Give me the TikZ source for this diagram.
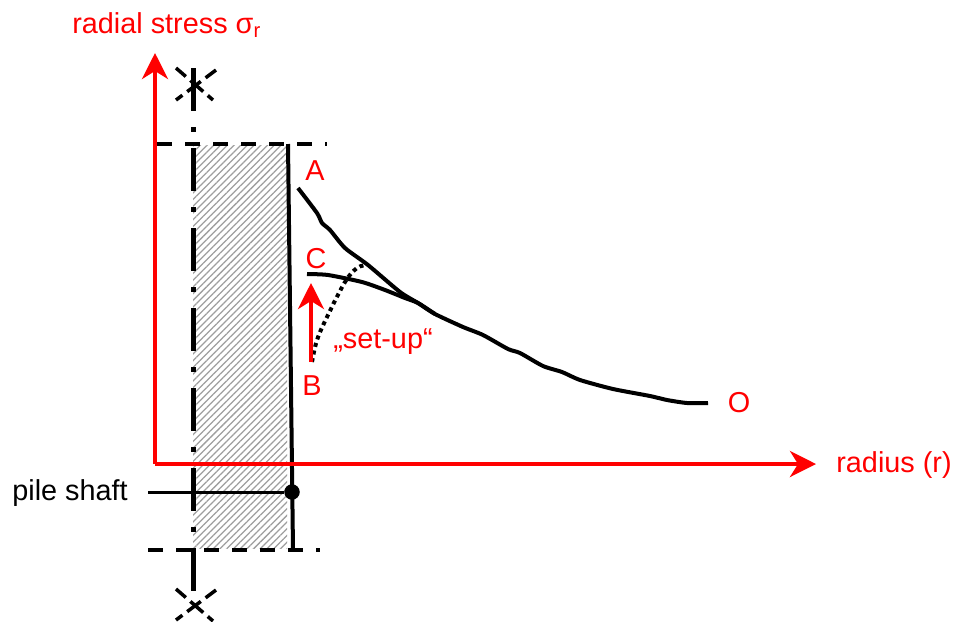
\documentclass[tikz,border=0pt]{standalone}
\usepackage{fontspec}
\setmainfont{Liberation Sans}
\usetikzlibrary{
    arrows.meta,
    patterns.meta
}

\begin{document}
\begin{tikzpicture}[
        x=0.2mm,
        y=-0.2mm,
        every node/.style={font=\fontsize{16.4}{19}\selectfont},
        axisline/.style={-{Stealth[length=5.2mm,width=5.2mm,inset=1.6mm]},line width=0.8mm,draw=red},
        label/.style={text=red,inner sep=0pt},
        wall/.style={line width=0.8mm,draw=black},
        curve/.style={line width=0.8mm,draw=black,line join=round},
        centreline/.style={line width=1mm,draw=black,dash pattern=on 8.6mm off 3.2mm on 1mm off 3.2mm},
        cutline/.style={line width=0.8mm,draw=black,dash pattern=on 3mm off 2.6mm},
        breakmark/.style={line width=0.7mm,draw=black,dash pattern=on 2.6mm off 1.2mm on 3.4mm off 1.2mm}
    ]
        \useasboundingbox (0,0) rectangle (954,621);

        % pile body
        \fill[pattern={Lines[angle=45,distance=0.95mm,line width=0.25mm]},pattern color=black!38]
            (193,145) rectangle (287,548);

        \coordinate (origin) at (155,464);
        \coordinate (ytip) at (155,53);
        \coordinate (xtip) at (816,464);
        \coordinate (axtop) at (193.5,68);
        \coordinate (axbot) at (193.5,592);
        \coordinate (cuttopl) at (157,144);
        \coordinate (cuttopr) at (327,144);
        \coordinate (cutbotl) at (148,550);
        \coordinate (cutbotr) at (320,550);
        \coordinate (walltop) at (288,144);
        \coordinate (wallbot) at (293,550);
        \coordinate (shaftend) at (148,492);
        \coordinate (setupstart) at (311,362);
        \coordinate (setuptip) at (311,283);

        \node[label,anchor=base west] (ylabel) at (72,33) {radial stress σ\textsubscript{r}};
        \node[label,anchor=base west] (xlabel) at (836,472) {radius (r)};
        \node[label,anchor=base] (ptA) at (315,180) {A};
        \node[label,anchor=base] (ptC) at (316,268) {C};
        \node[label,anchor=base] (ptB) at (312,395) {B};
        \node[label,anchor=base] (ptO) at (739,412) {O};
        \node[label,anchor=base west] (setup) at (333,348) {„set-up“};
        \node[inner sep=0pt,anchor=base west] (shaftlabel) at (12,500) {pile shaft};
        \node[circle,fill=black,inner sep=0pt,minimum size=3.1mm] (shaftdot) at (292,492) {};

        % centre line and cuts
        \draw[centreline] (axtop) -- (axbot);
        \draw[cutline] (cuttopl) -- (cuttopr);
        \draw[cutline] (cutbotl) -- (cutbotr);
        \draw[wall] (walltop) -- (wallbot);
        \draw[line width=0.6mm] (shaftend) -- (shaftdot);

        \draw[breakmark] (176,68) -- (213,100);
        \draw[breakmark] (216,70) -- (176,100);
        \draw[breakmark] (176,589) -- (213,621);
        \draw[breakmark] (216,590) -- (176,620);

        % stress curves
        \draw[curve] plot[smooth,tension=0.4] coordinates {(298,188) (317,213) (322,223) (330,230) (345,248) (368,265)
            (400,292) (418,303) (435,314) (463,327) (483,335) (508,349) (520,353) (543,366) (562,372) (580,380)
            (613,389) (650,396) (667,400) (687,403) (708,403)};
        \draw[curve] plot[smooth,tension=0.4] coordinates {(307,274) (328,275) (362,282) (385,290) (405,298) (418,303) (435,314)};
        \draw[line width=0.8mm,dash pattern=on 0.8mm off 0.75mm] plot[smooth,tension=0.6] coordinates {(312,362) (317,340) (327,317) (345,282) (357,268) (367,265)};

        % axes
        \draw[axisline] (origin) -- (ytip);
        \draw[axisline] (origin) -- (xtip);
        \draw[axisline] (setupstart) -- (setuptip);
    \end{tikzpicture}
\end{document}
